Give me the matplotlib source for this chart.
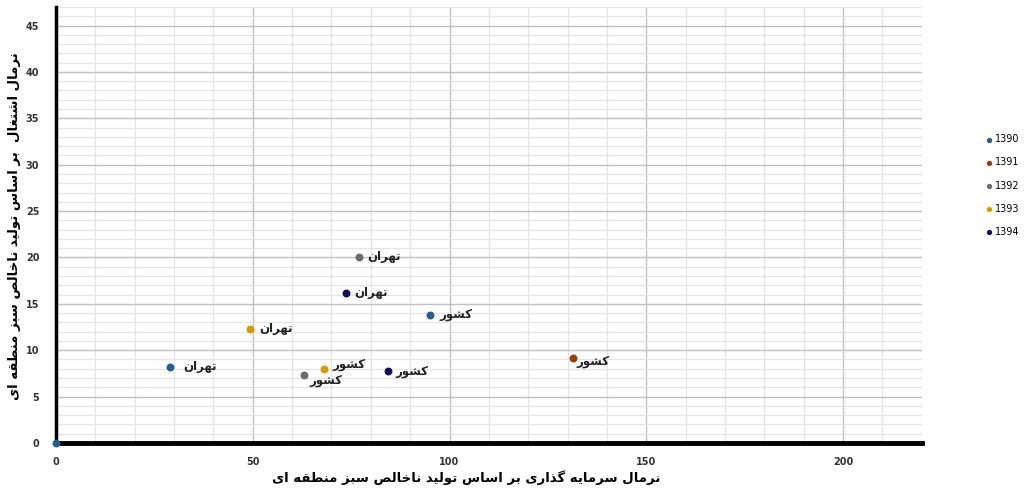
import numpy as np
from matplotlib import pyplot as plt
from matplotlib.ticker import MultipleLocator

# --- data ---
years = ['1390', '1391', '1392', '1393', '1394']
colors = ['#255e91', '#9e3b0a', '#6b6b6b', '#d89b00', '#10105a']
tehran_x = [28.9, np.nan, 77.1, 49.2, 73.8]
tehran_y = [8.2, np.nan, 20.1, 12.3, 16.2]
keshvar_x = [95.1, 131.3, 63.1, 68.2, 84.4]
keshvar_y = [13.8, 9.2, 7.3, 8.0, 7.8]
origin_x = [0.0]
origin_y = [0.0]

tehran = 'تهران'
keshvar = 'کشور'
x_title = 'نرمال سرمایه گذاری بر اساس تولید ناخالص سبز منطقه ای'
y_title = 'نرمال اشتغال  بر اساس تولید ناخالص سبز منطقه ای'

# label offsets in pixels (dx, dy)
tehran_off = [(14, 0), None, (8, 0), (10, 0), (8, 0)]
keshvar_off = [(9, 0), (4, -4), (5, -5), (8, 4), (7, -1)]

# minimal persian shaping: isolated, final, initial, medial (None = no left join)
FORMS = {
    'ا': (0xFE8D, 0xFE8E, None, None),
    'ب': (0xFE8F, 0xFE90, 0xFE91, 0xFE92),
    'ت': (0xFE95, 0xFE96, 0xFE97, 0xFE98),
    'خ': (0xFEA5, 0xFEA6, 0xFEA7, 0xFEA8),
    'د': (0xFEA9, 0xFEAA, None, None),
    'ذ': (0xFEAB, 0xFEAC, None, None),
    'ر': (0xFEAD, 0xFEAE, None, None),
    'ز': (0xFEAF, 0xFEB0, None, None),
    'س': (0xFEB1, 0xFEB2, 0xFEB3, 0xFEB4),
    'ش': (0xFEB5, 0xFEB6, 0xFEB7, 0xFEB8),
    'ص': (0xFEB9, 0xFEBA, 0xFEBB, 0xFEBC),
    'ط': (0xFEC1, 0xFEC2, 0xFEC3, 0xFEC4),
    'غ': (0xFECD, 0xFECE, 0xFECF, 0xFED0),
    'ق': (0xFED5, 0xFED6, 0xFED7, 0xFED8),
    'ل': (0xFEDD, 0xFEDE, 0xFEDF, 0xFEE0),
    'م': (0xFEE1, 0xFEE2, 0xFEE3, 0xFEE4),
    'ن': (0xFEE5, 0xFEE6, 0xFEE7, 0xFEE8),
    'ه': (0xFEE9, 0xFEEA, 0xFEEB, 0xFEEC),
    'و': (0xFEED, 0xFEEE, None, None),
    'ک': (0xFB8E, 0xFB8F, 0xFB90, 0xFB91),
    'گ': (0xFB92, 0xFB93, 0xFB94, 0xFB95),
    'ی': (0xFBFC, 0xFBFD, 0xFBFE, 0xFBFF),
}


def shape(s):
    out = []
    for i, c in enumerate(s):
        if c not in FORMS:
            out.append(c)
            continue
        prev = s[i-1] if i > 0 else ''
        nxt = s[i+1] if i < len(s)-1 else ''
        jp = prev in FORMS and FORMS[prev][2] is not None
        jn = FORMS[c][2] is not None and nxt in FORMS
        f = FORMS[c]
        if jp and jn:
            code = f[3]
        elif jp:
            code = f[1]
        elif jn:
            code = f[2]
        else:
            code = f[0]
        out.append(chr(code))
    return ''.join(out)[::-1]


plt.rcParams['font.family'] = ['DejaVu Sans']

fig = plt.figure(figsize=(10.24, 4.91), dpi=100)
ax = fig.add_axes([0.0547, 0.0978, 0.8455, 0.888])

for i in range(len(years)):
    xs = [tehran_x[i], keshvar_x[i]]
    ys = [tehran_y[i], keshvar_y[i]]
    ax.scatter(xs, ys, s=22, color=colors[i], label=years[i], zorder=3)
    if tehran_off[i] is not None:
        ax.annotate(shape(tehran), (tehran_x[i], tehran_y[i]), xytext=tehran_off[i],
                    textcoords='offset pixels', ha='left', va='center',
                    fontsize=8.5, fontweight='bold', color='#222222')
    ax.annotate(shape(keshvar), (keshvar_x[i], keshvar_y[i]), xytext=keshvar_off[i],
                textcoords='offset pixels', ha='left', va='center',
                fontsize=8.5, fontweight='bold', color='#222222')
ax.scatter(origin_x, origin_y, s=22, color=colors[0], zorder=4, clip_on=False)

ax.set_xlim(0, 220)
ax.set_ylim(0, 47)
ax.xaxis.set_major_locator(MultipleLocator(50))
ax.xaxis.set_minor_locator(MultipleLocator(10))
ax.yaxis.set_major_locator(MultipleLocator(5))
ax.yaxis.set_minor_locator(MultipleLocator(1))
ax.grid(which='major', color='#c0c0c0', linewidth=1.0)
ax.grid(which='minor', color='#e4e4e4', linewidth=0.9)
ax.set_axisbelow(True)
ax.tick_params(which='both', length=0, labelsize=7, colors='#333333')
ax.tick_params(axis='x', pad=10)
ax.tick_params(axis='y', pad=12)
for t in ax.get_xticklabels() + ax.get_yticklabels():
    t.set_fontweight('bold')

for sp in ['top', 'right']:
    ax.spines[sp].set_visible(False)
ax.spines['left'].set_linewidth(2.5)
ax.spines['bottom'].set_linewidth(3.5)
ax.spines['left'].set_color('black')
ax.spines['bottom'].set_color('black')

fig.text(0.455, 0.027, shape(x_title), fontsize=9.5, fontweight='bold',
         ha='center', va='center')
fig.text(0.014, 0.54, shape(y_title), fontsize=9.5, fontweight='bold',
         ha='center', va='center', rotation=90)

fig.legend(loc='center left', bbox_to_anchor=(0.955, 0.622), frameon=False,
           fontsize=7, handletextpad=0.1, labelspacing=1.35, markerscale=0.6,
           borderpad=0, handlelength=1.2)

fig.savefig('out.png', dpi=100)
